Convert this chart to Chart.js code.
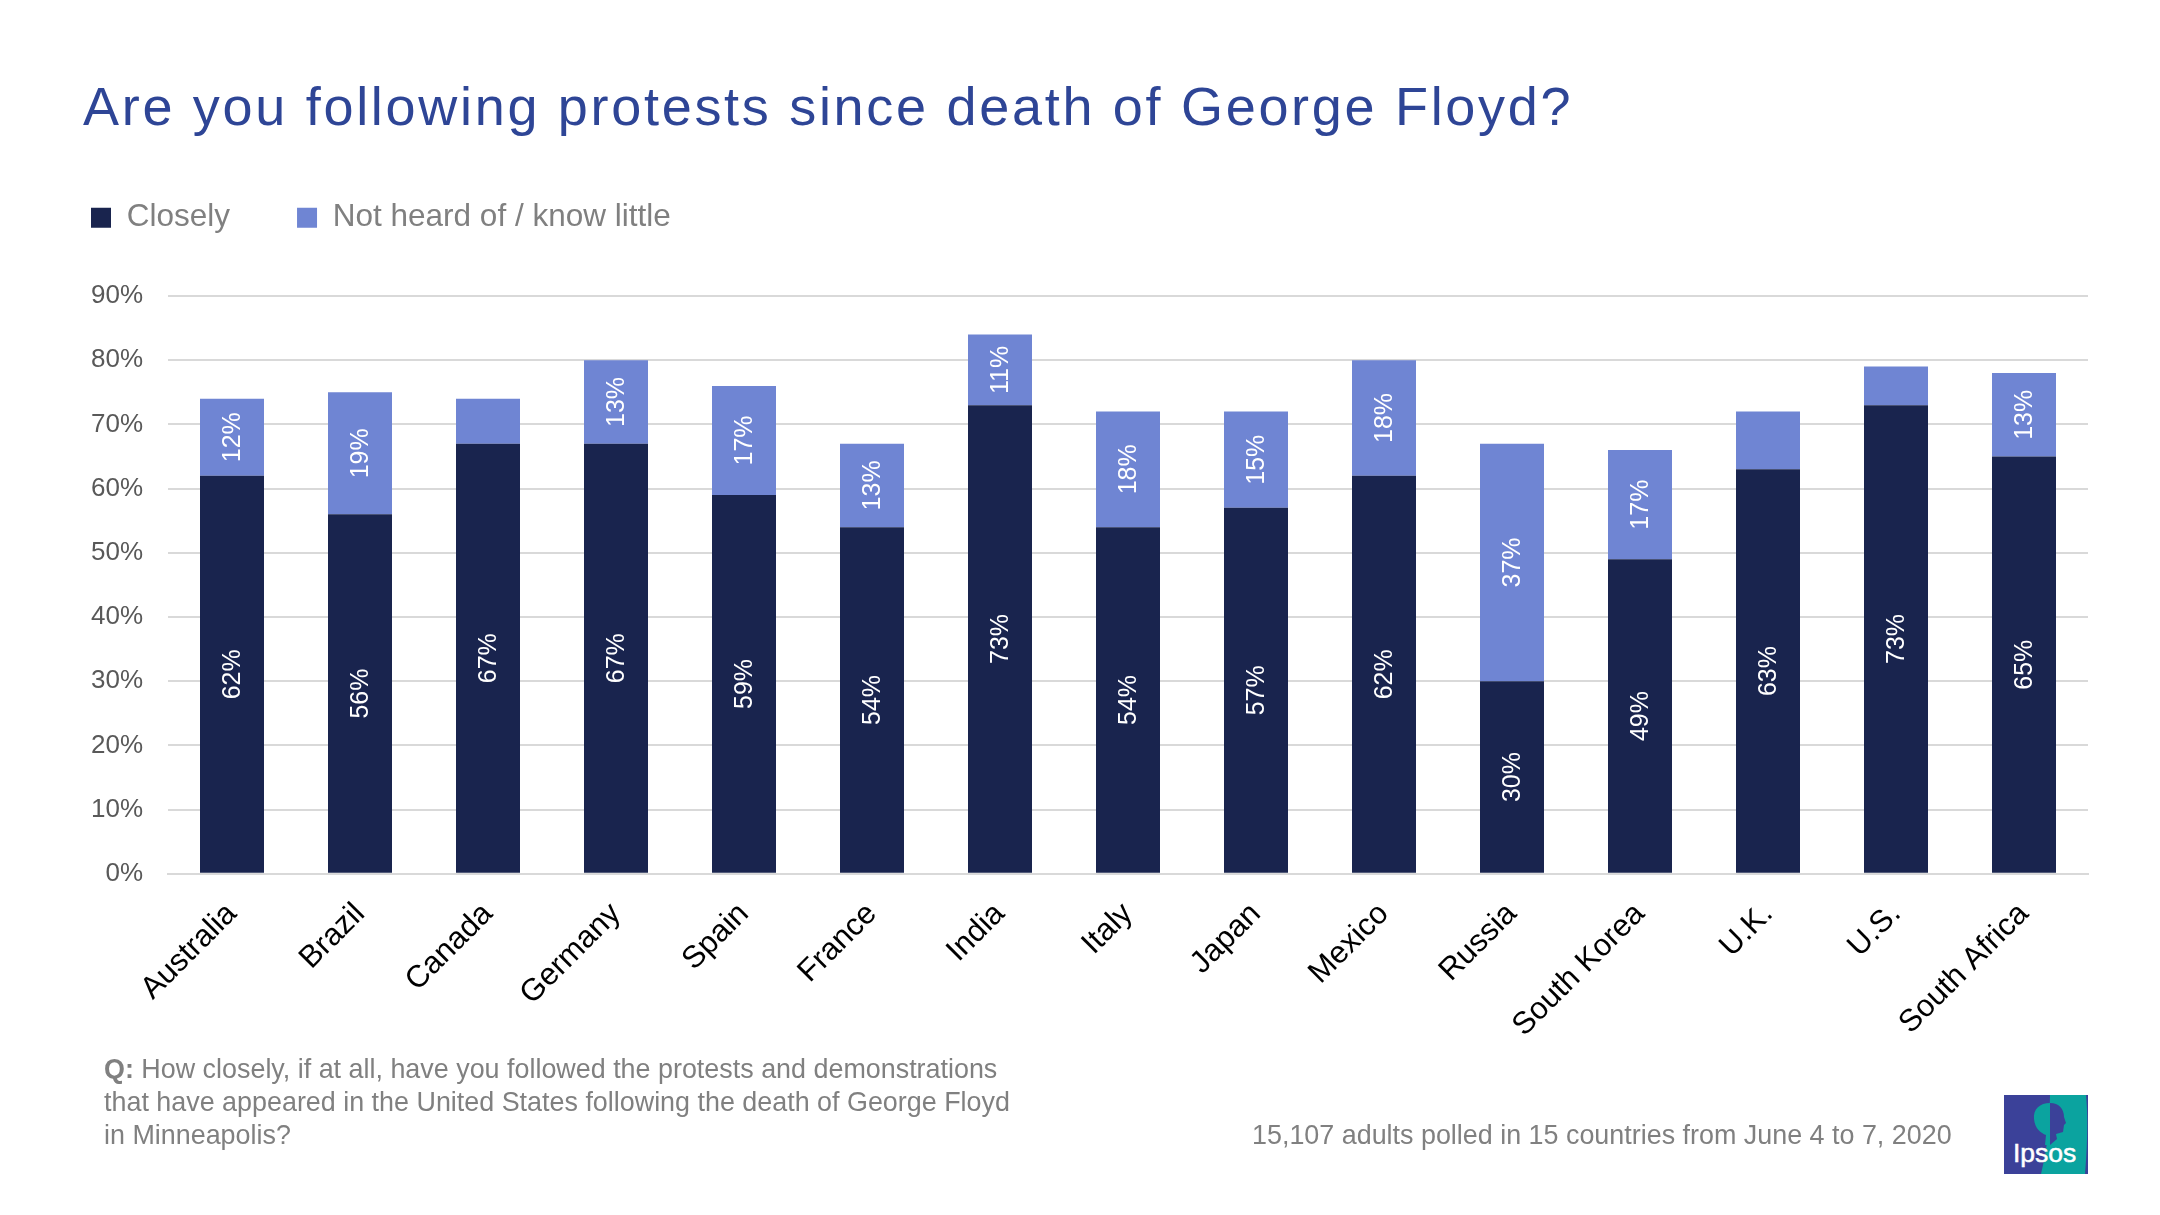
<!DOCTYPE html>
<html>
<head>
<meta charset="utf-8">
<title>Are you following protests since death of George Floyd?</title>
<script src="https://cdn.jsdelivr.net/npm/chart.js@4/dist/chart.umd.js"></script>
<style>
  html, body { margin: 0; padding: 0; background: #fff; }
  body { position: relative; width: 2160px; height: 1215px; overflow: hidden; font-family: "Liberation Sans", Arial, sans-serif; }
  #wrap { position: absolute; left: 0; top: 0; width: 2160px; height: 1215px; }
  h1 { position: absolute; left: 83px; top: 74px; margin: 0; font-size: 54px; line-height: 64px; font-weight: normal; letter-spacing: 2.7px; color: #2e4596; white-space: nowrap; }
  #question { position: absolute; left: 104px; top: 1053px; font-size: 26.9px; line-height: 33px; color: #808080; white-space: nowrap; }
  #polled { position: absolute; left: 1252px; top: 1119px; font-size: 26.9px; line-height: 33px; color: #808080; white-space: nowrap; }
  #logo { position: absolute; left: 2004px; top: 1095px; width: 84px; height: 79px; }
</style>
</head>
<body>
<div id="wrap"><canvas id="chart"></canvas></div>
<h1>Are you following protests since death of George Floyd?</h1>
<div id="question"><b>Q:</b> How closely, if at all, have you followed the protests and demonstrations<br>that have appeared in the United States following the death of George Floyd<br>in Minneapolis?</div>
<div id="polled">15,107 adults polled in 15 countries from June 4 to 7, 2020</div>
<svg id="logo" viewBox="0 0 84 79">
  <rect width="84" height="79" fill="#3b4199"/>
  <path d="M46 0 H82 Q85 30 81 79 H37 Q46 45 46 0 Z" fill="#0ba39f"/>
  <path d="M46 8 C36 8 29 14 30 24 C31 34 37 38 42 40 L41 50 L46 50 Z" fill="#0ba39f"/>
  <path d="M46 8 C55 8 60 14 60 22 L62 28 L60 30 L59 37 L52 39 L53 44 L46 50 Z" fill="#3b4199"/>
  <text x="9" y="67" font-family="Liberation Sans" font-size="26.5" stroke="#fff" stroke-width="0.5" fill="#fff">Ipsos</text>
</svg>
<script>
var categories = ['Australia', 'Brazil', 'Canada', 'Germany', 'Spain', 'France', 'India', 'Italy', 'Japan', 'Mexico', 'Russia', 'South Korea', 'U.K.', 'U.S.', 'South Africa'];
var closely = [62, 56, 67, 67, 59, 54, 73, 54, 57, 62, 30, 49, 63, 73, 65];
var notHeard = [12, 19, 7, 13, 17, 13, 11, 18, 15, 18, 37, 17, 9, 6, 13];
var minLabelValue = 10;

// no datalabels plugin available, so the rotated labels are drawn here
var barLabels = {
    id: 'barLabels',
    afterDatasetsDraw: function (chart) {
        var ctx = chart.ctx;
        chart.data.datasets.forEach(function (ds, i) {
            chart.getDatasetMeta(i).data.forEach(function (bar, j) {
                if (ds.data[j] < minLabelValue) {
                    return;
                }
                var c = bar.getCenterPoint();
                ctx.save();
                ctx.translate(c.x + 1, c.y);
                ctx.rotate(-Math.PI / 2);
                ctx.font = '25px "Liberation Sans"';
                ctx.fillStyle = '#ffffff';
                ctx.textAlign = 'center';
                ctx.textBaseline = 'middle';
                ctx.fillText(ds.data[j] + '%', 0, 0);
                ctx.restore();
            });
        });
    }
};

// legend needs a fixed height so the plot area starts under it
var legendHeight = {
    id: 'legendHeight',
    beforeInit: function (chart) {
        var fit = chart.legend.fit;
        chart.legend.fit = function () {
            fit.call(this);
            this.height = 161;
        };
    }
};

new Chart(document.getElementById('chart'), {
    type: 'bar',
    data: {
        labels: categories,
        datasets: [
            { label: 'Closely', data: closely, backgroundColor: '#19244e', barPercentage: 0.5, categoryPercentage: 1 },
            { label: 'Not heard of / know little', data: notHeard, backgroundColor: '#6f85d3', barPercentage: 0.5, categoryPercentage: 1 }
        ]
    },
    plugins: [barLabels, legendHeight],
    options: {
        responsive: true,
        maintainAspectRatio: false,
        animation: false,
        layout: { padding: { left: 24, right: 72, top: 135, bottom: 157 } },
        plugins: {
            tooltip: { enabled: false },
            legend: {
                position: 'top',
                align: 'start',
                labels: {
                    boxWidth: 20,
                    boxHeight: 20,
                    padding: 67,
                    color: '#808080',
                    font: { family: '"Liberation Sans"', size: 31.5 }
                }
            }
        },
        scales: {
            x: {
                stacked: true,
                grid: { display: false },
                border: { color: '#d9d9d9', width: 2 },
                ticks: {
                    autoSkip: false,
                    minRotation: 45,
                    maxRotation: 45,
                    padding: 14,
                    color: '#000000',
                    font: { family: '"Liberation Sans"', size: 31 }
                }
            },
            y: {
                stacked: true,
                min: 0,
                max: 90,
                afterFit: function (scale) { scale.width = 144; },
                grid: { color: '#d9d9d9', lineWidth: 2, drawTicks: false },
                border: { display: false },
                ticks: {
                    stepSize: 10,
                    padding: 25,
                    color: '#595959',
                    font: { family: '"Liberation Sans"', size: 26 },
                    callback: function (v) { return v + '%'; }
                }
            }
        }
    }
});
</script>
</body>
</html>
